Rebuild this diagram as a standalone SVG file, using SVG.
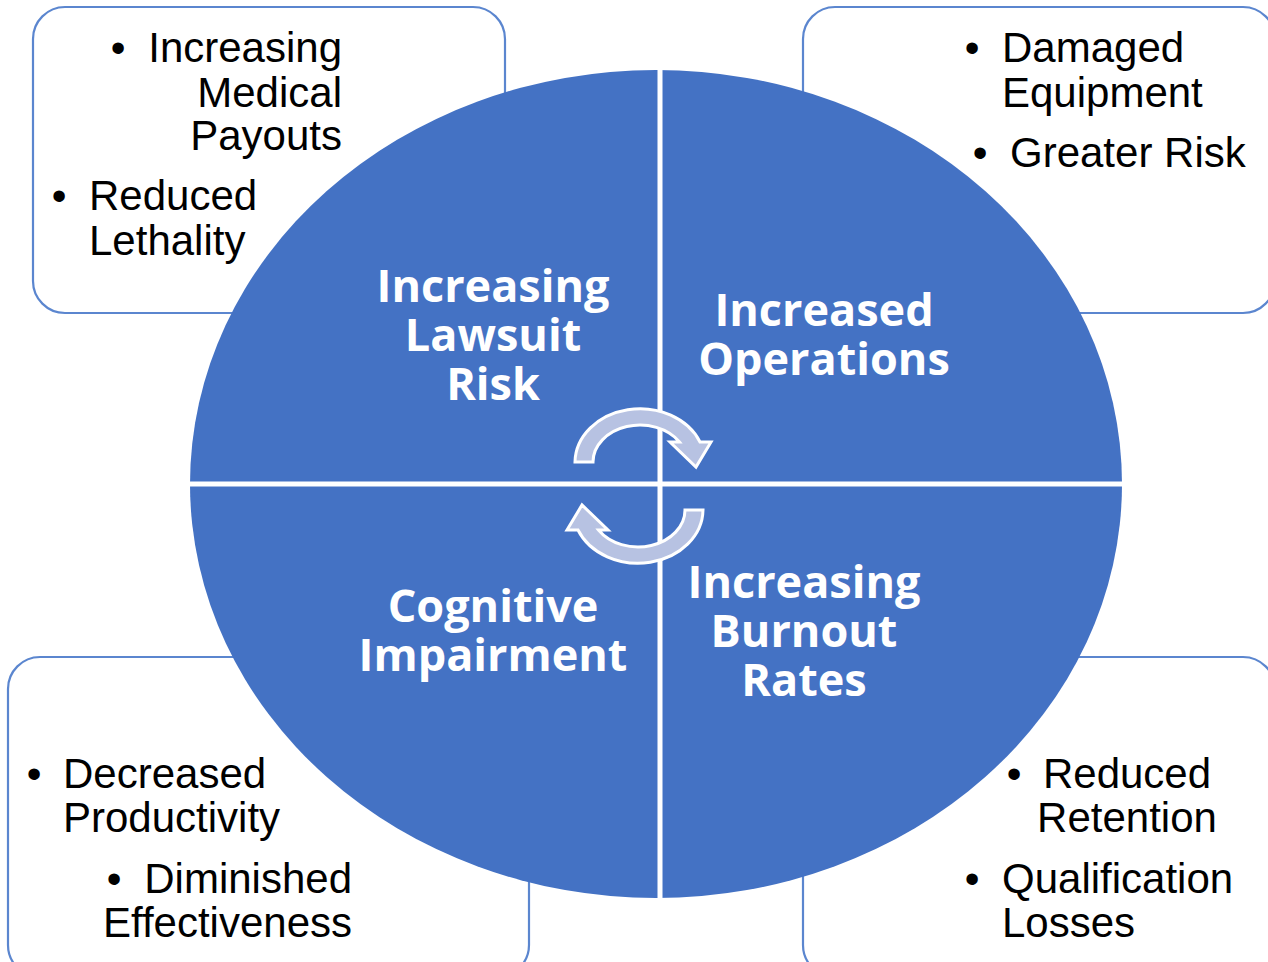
<svg xmlns="http://www.w3.org/2000/svg" width="1268" height="962" viewBox="0 0 1268 962">
<style>
.box{fill:#fff;stroke:#5B86CF;stroke-width:2.2}
.t{font-family:"Liberation Sans",Arial,sans-serif;font-size:42px;fill:#000}
.c{font-family:"Open Sans","Liberation Sans",sans-serif;font-weight:700;font-size:45px;fill:#fff;text-anchor:middle}
.div{stroke:#fff;stroke-width:5}
.arr{fill:#B7C2E2;stroke:#fff;stroke-width:3;stroke-linejoin:miter}
</style>
<defs>
<path id="arrow" d="M593,462 L575,462 A65 54 0 0 1 700,442 L711,442 L696,467 L670,442 L679.5,442 A47 37 0 0 0 593,462 Z"/>
</defs>
<rect width="1268" height="962" fill="#fff"/>

<g id="box-tl">
<rect class="box" x="33" y="7" width="472" height="306" rx="32"/>
<text class="t" x="118" y="62" text-anchor="middle">•</text>
<text class="t" text-anchor="end"><tspan x="342" y="62">Increasing</tspan><tspan x="342" y="107">Medical</tspan><tspan x="342" y="150">Payouts</tspan></text>
<text class="t" x="59" y="210" text-anchor="middle">•</text>
<text class="t"><tspan x="89" y="210">Reduced</tspan><tspan x="89" y="255">Lethality</tspan></text>
</g>

<g id="box-tr">
<rect class="box" x="803" y="7" width="472" height="306" rx="32"/>
<text class="t" x="972" y="62" text-anchor="middle">•</text>
<text class="t"><tspan x="1002" y="62">Damaged</tspan><tspan x="1002" y="107">Equipment</tspan></text>
<text class="t" x="980" y="167" text-anchor="middle">•</text>
<text class="t" x="1010" y="167">Greater Risk</text>
</g>

<g id="box-bl">
<rect class="box" x="8" y="657" width="521" height="320" rx="32"/>
<text class="t" x="34" y="788" text-anchor="middle">•</text>
<text class="t"><tspan x="63" y="788">Decreased</tspan><tspan x="63" y="832">Productivity</tspan></text>
<text class="t" x="114" y="893" text-anchor="middle">•</text>
<text class="t" text-anchor="end"><tspan x="352" y="893">Diminished</tspan><tspan x="352" y="937">Effectiveness</tspan></text>
</g>

<g id="box-br">
<rect class="box" x="803" y="657" width="472" height="320" rx="32"/>
<text class="t" x="1014" y="788" text-anchor="middle">•</text>
<text class="t" text-anchor="middle"><tspan x="1127" y="788">Reduced</tspan><tspan x="1127" y="832">Retention</tspan></text>
<text class="t" x="972" y="893" text-anchor="middle">•</text>
<text class="t"><tspan x="1002" y="893">Qualification</tspan><tspan x="1002" y="937">Losses</tspan></text>
</g>

<g id="circle">
<ellipse cx="656" cy="484" rx="466" ry="414" fill="#4472C4"/>
</g>

<g id="connectors">
<line class="div" x1="660" y1="60" x2="660" y2="910"/>
<line class="div" x1="180" y1="484" x2="1130" y2="484"/>
<use href="#arrow" class="arr"/>
<use href="#arrow" class="arr" transform="rotate(180 639 486)"/>
</g>

<g id="q1"><text class="c"><tspan x="493" y="302">Increasing</tspan><tspan x="493" y="351">Lawsuit</tspan><tspan x="493" y="400">Risk</tspan></text></g>
<g id="q2"><text class="c"><tspan x="824" y="326">Increased</tspan><tspan x="824" y="375">Operations</tspan></text></g>
<g id="q3"><text class="c"><tspan x="493" y="622">Cognitive</tspan><tspan x="493" y="671">Impairment</tspan></text></g>
<g id="q4"><text class="c"><tspan x="804" y="598">Increasing</tspan><tspan x="804" y="647">Burnout</tspan><tspan x="804" y="696">Rates</tspan></text></g>
</svg>
